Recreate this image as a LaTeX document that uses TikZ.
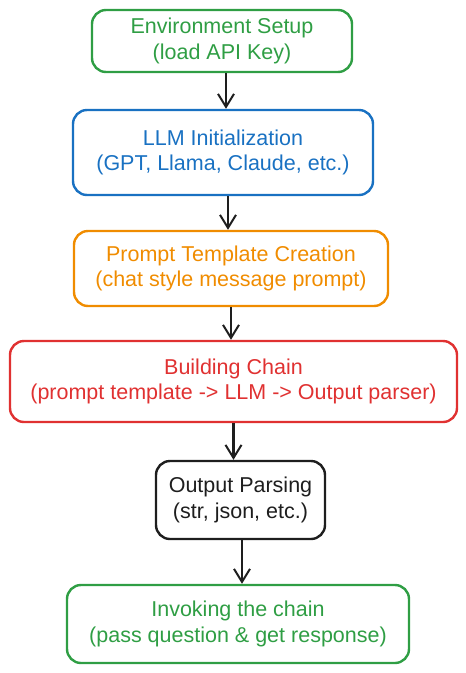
\documentclass[tikz,border=0pt]{standalone}
\usepackage{fontspec}
\setmainfont{Liberation Sans}
\usetikzlibrary{arrows.meta}
\definecolor{exgreen}{HTML}{2F9E44}
\definecolor{exblue}{HTML}{1971C2}
\definecolor{exorange}{HTML}{F08C00}
\definecolor{exred}{HTML}{E03131}
\definecolor{exblack}{HTML}{1E1E1E}
\tikzset{
  box/.style={draw=#1, text=#1, line width=2.4pt, rounded corners=14pt, align=center,
    inner sep=0pt, font=\fontsize{21.5}{25.5}\selectfont},
  flow/.style={draw=exblack, line width=2.2pt, -{Straight Barb[length=13pt,width=16pt,line width=2pt]}}
}
\begin{document}
\begin{tikzpicture}[x=1pt,y=-1pt]
\useasboundingbox (0,0) rectangle (466,673);
\node[box=exgreen, minimum width=260pt, minimum height=62pt] (env) at (222,41) {Environment Setup\\(load API Key)};
\node[box=exblue, minimum width=300pt, minimum height=85pt] (llm) at (223,152.5) {LLM Initialization\\(GPT, Llama, Claude, etc.)};
\node[box=exorange, minimum width=314pt, minimum height=75pt] (prompt) at (231,268.5) {Prompt Template Creation\\(chat style message prompt)};
\node[box=exred, minimum width=447pt, minimum height=81pt] (chain) at (233.5,381.5) {Building Chain\\(prompt template -> LLM -> Output parser)};
\node[box=exblack, minimum width=169pt, minimum height=78pt] (parse) at (240.5,500) {Output Parsing\\(str, json, etc.)};
\node[box=exgreen, minimum width=342pt, minimum height=78pt] (invoke) at (238,624) {Invoking the chain\\(pass question \& get response)};
\draw[flow] ([xshift=4pt]env.south) -- ([xshift=4pt]env.south |- llm.north);
\draw[flow] ([xshift=5pt]llm.south) -- ([xshift=5pt]llm.south |- prompt.north);
\draw[flow] (prompt.south) -- (prompt.south |- chain.north);
\draw[flow] (chain.south) -- (chain.south |- parse.north);
\draw[flow] ([xshift=1.5pt]parse.south) -- ([xshift=1.5pt]parse.south |- invoke.north);
\end{tikzpicture}
\end{document}
